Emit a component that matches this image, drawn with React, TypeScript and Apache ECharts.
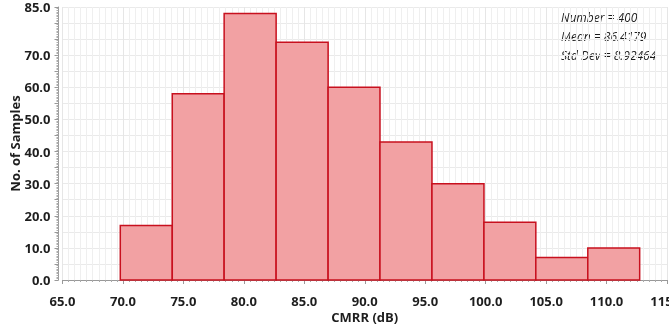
import React, { useEffect, useRef } from "react";
import * as echarts from "echarts";

const binEdges = [69.78, 74.08, 78.37, 82.67, 86.97, 91.26, 95.56, 99.86, 104.15, 108.45, 112.74];
const counts = [17, 58, 83, 74, 60, 43, 30, 18, 7, 10];
const statsLines = ["Number = 400", "Mean = 86.4179", "Std Dev = 8.92464"];
const xTitle = "CMRR (dB)";
const yTitle = "No. of Samples";
const yLabelValues = [0, 10, 20, 30, 40, 50, 60, 70, 85];

const FONT = "'Open Sans', 'Noto Sans', sans-serif";

export default function App() {
  const ref = useRef<HTMLDivElement>(null);
  useEffect(() => {
    const chart = echarts.init(ref.current!, null, { renderer: "svg" });
    const data = counts.map((c, i) => [binEdges[i], binEdges[i + 1], c]);
    chart.setOption({
      animation: false,
      grid: {
        left: 62.5,
        top: 7,
        width: 604.5,
        height: 273,
        containLabel: false,
        outerBoundsMode: "none",
      },
      xAxis: {
        type: "value",
        min: 65,
        max: 115,
        interval: 5,
        offset: 4,
        name: xTitle,
        nameLocation: "middle",
        nameGap: 25.5,
        nameMoveOverlap: false,
        nameTextStyle: { fontFamily: FONT, fontWeight: "bold", fontSize: 13, color: "#1e1e1e", lineHeight: 15 },
        axisLine: { show: true, lineStyle: { color: "#999", width: 1 } },
        axisTick: { show: true, length: 4, lineStyle: { color: "#999" } },
        minorTick: { show: true, splitNumber: 10, length: 2, lineStyle: { color: "#aaa" } },
        axisLabel: {
          fontFamily: FONT,
          fontWeight: "bold",
          fontSize: 13,
          color: "#1e1e1e",
          margin: 9,
          lineHeight: 15,
          formatter: (v: number) => v.toFixed(1),
        },
        splitLine: { show: true, lineStyle: { color: "#e6e6e6", width: 1 } },
        minorSplitLine: { show: true, lineStyle: { color: "#efefef", width: 1 } },
      },
      yAxis: {
        type: "value",
        min: 0,
        max: 85,
        interval: 5,
        offset: 4,
        name: yTitle,
        nameLocation: "middle",
        nameGap: 37,
        nameMoveOverlap: false,
        nameTextStyle: { fontFamily: FONT, fontWeight: "bold", fontSize: 13, color: "#1e1e1e" },
        axisLine: { show: true, lineStyle: { color: "#999", width: 1 } },
        axisTick: { show: true, length: 4, lineStyle: { color: "#999" } },
        minorTick: { show: true, splitNumber: 10, length: 2, lineStyle: { color: "#aaa" } },
        axisLabel: {
          fontFamily: FONT,
          fontWeight: "bold",
          fontSize: 13,
          color: "#1e1e1e",
          margin: 8,
          formatter: (v: number) => (yLabelValues.indexOf(v) >= 0 ? v.toFixed(1) : ""),
        },
        splitLine: { show: true, lineStyle: { color: "#eaeaea", width: 1 } },
        minorSplitLine: { show: false },
      },
      graphic: statsLines.map((t, i) => ({
        type: "text",
        left: 561,
        top: 11 + i * 19,
        style: {
          text: t,
          fontFamily: FONT,
          fontStyle: "italic",
          fontSize: 12,
          fill: "#1a1a1a",
        },
      })),
      series: [
        {
          type: "custom",
          data,
          encode: { x: [0, 1], y: 2 },
          renderItem: (params: any, api: any) => {
            const p0 = api.coord([api.value(0), api.value(2)]);
            const p1 = api.coord([api.value(1), 0]);
            return {
              type: "rect",
              shape: { x: p0[0], y: p0[1], width: p1[0] - p0[0], height: p1[1] - p0[1] },
              style: { fill: "#f2a1a3", stroke: "#c8101e", lineWidth: 1.5 },
            };
          },
        },
      ],
    });
    return () => chart.dispose();
  }, []);
  return <div ref={ref} style={{ position: "fixed", left: 0, top: 0, width: 669, height: 325 }} />;
}
